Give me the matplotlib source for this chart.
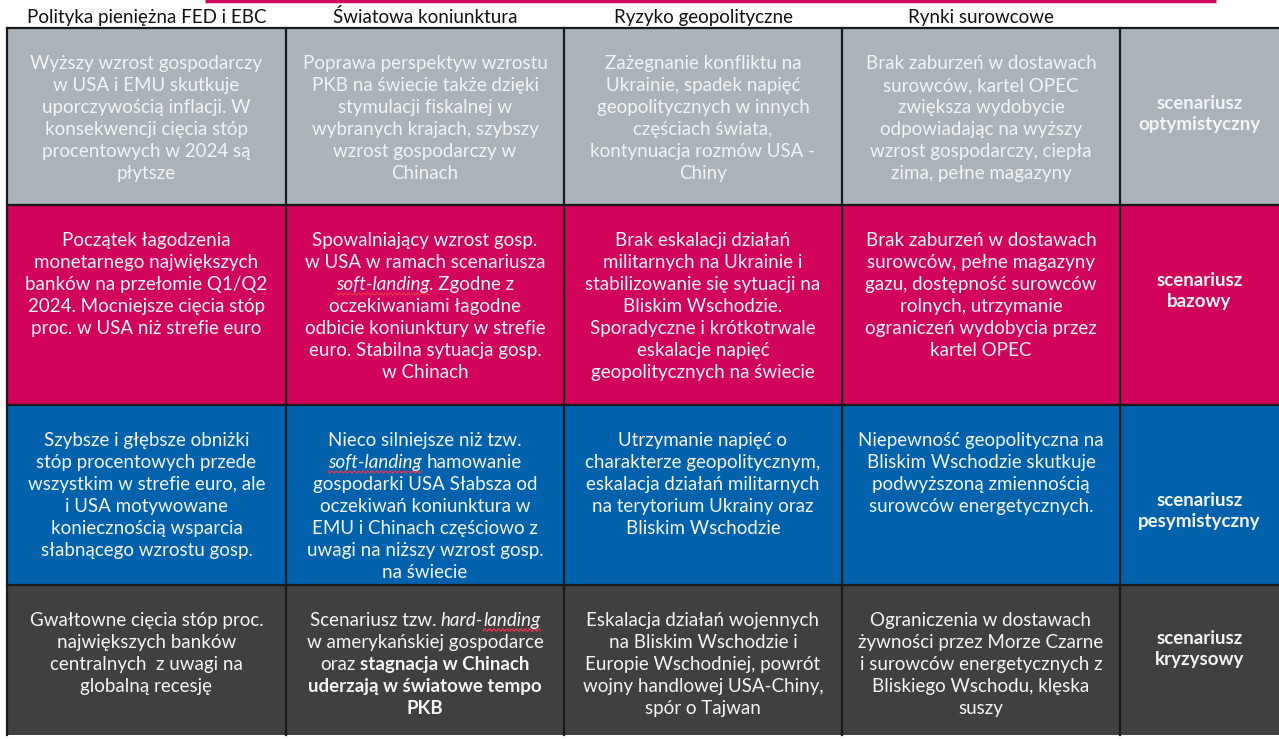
import numpy as np
import matplotlib
matplotlib.use('Agg')
import matplotlib.pyplot as plt
from matplotlib import font_manager

headers = ['Polityka pieniężna FED i EBC', 'Światowa koniunktura',
           'Ryzyko geopolityczne', 'Rynki surowcowe']
scenarios = [['scenariusz', 'optymistyczny'], ['scenariusz', 'bazowy'],
             ['scenariusz', 'pesymistyczny'], ['scenariusz', 'kryzysowy']]
row_colors = ['#A9B3B9', '#D1035A', '#0061AD', '#404040']

# one list of lines per cell; a line is a string or a list of (text, style)
# style: n normal, i italic, b bold, w wavy (spell-check) underline
optimistic = [
    ['Wyższy wzrost gospodarczy', 'w USA i EMU skutkuje', 'uporczywością inflacji. W',
     'konsekwencji cięcia stóp', 'procentowych w 2024 są', 'płytsze'],
    ['Poprawa perspektyw wzrostu', 'PKB na świecie także dzięki', 'stymulacji fiskalnej w',
     'wybranych krajach, szybszy', 'wzrost gospodarczy w', 'Chinach'],
    ['Zażegnanie konfliktu na', 'Ukrainie, spadek napięć', 'geopolitycznych w innych',
     'częściach świata,', 'kontynuacja rozmów USA -', 'Chiny'],
    ['Brak zaburzeń w dostawach', 'surowców, kartel OPEC', 'zwiększa wydobycie',
     'odpowiadając na wyższy', 'wzrost gospodarczy, ciepła', 'zima, pełne magazyny'],
]
base = [
    ['Początek łagodzenia', 'monetarnego największych', 'banków na przełomie Q1/Q2',
     '2024. Mocniejsze cięcia stóp', 'proc. w USA niż strefie euro'],
    ['Spowalniający wzrost gosp.', 'w USA w ramach scenariusza',
     [('soft-landing', 'iw'), ('. Zgodne z', 'n')], 'oczekiwaniami łagodne',
     'odbicie koniunktury w strefie', 'euro. Stabilna sytuacja gosp.', 'w Chinach'],
    ['Brak eskalacji działań', 'militarnych na Ukrainie i', 'stabilizowanie się sytuacji na',
     'Bliskim Wschodzie.', 'Sporadyczne i krótkotrwale', 'eskalacje napięć',
     'geopolitycznych na świecie'],
    ['Brak zaburzeń w dostawach', 'surowców, pełne magazyny', 'gazu, dostępność surowców',
     'rolnych, utrzymanie', 'ograniczeń wydobycia przez', 'kartel OPEC'],
]
pessimistic = [
    ['Szybsze i głębsze obniżki', 'stóp procentowych przede', 'wszystkim w strefie euro, ale',
     'i USA motywowane', 'koniecznością wsparcia', 'słabnącego wzrostu gosp.'],
    ['Nieco silniejsze niż tzw.', [('soft-landing', 'iw'), (' hamowanie', 'n')],
     'gospodarki USA Słabsza od', 'oczekiwań koniunktura w', 'EMU i Chinach częściowo z',
     'uwagi na niższy wzrost gosp.', 'na świecie'],
    ['Utrzymanie napięć o', 'charakterze geopolitycznym,', 'eskalacja działań militarnych',
     'na terytorium Ukrainy oraz', 'Bliskim Wschodzie'],
    ['Niepewność geopolityczna na', 'Bliskim Wschodzie skutkuje', 'podwyższoną zmiennością',
     'surowców energetycznych.'],
]
crisis = [
    ['Gwałtowne cięcia stóp proc.', 'największych banków', 'centralnych  z uwagi na',
     'globalną recesję'],
    [[('Scenariusz tzw. ', 'n'), ('hard-', 'i'), ('landing', 'iw')],
     'w amerykańskiej gospodarce', [('oraz ', 'n'), ('stagnacja w Chinach', 'b')],
     [('uderzają w światowe tempo', 'b')], [('PKB', 'b')]],
    ['Eskalacja działań wojennych', 'na Bliskim Wschodzie i', 'Europie Wschodniej, powrót',
     'wojny handlowej USA-Chiny,', 'spór o Tajwan'],
    ['Ograniczenia w dostawach', 'żywności przez Morze Czarne', 'i surowców energetycznych z',
     'Bliskiego Wschodu, klęska', 'suszy'],
]
cells = [optimistic, base, pessimistic, crisis]

W, H = 1279, 739
col_edges = [7, 286, 564, 842, 1120, 1279]
row_edges = [28, 205, 405, 585, 735]
label_y = [103, 280, 500, 638]
FS = 13.5
LINE = 22

names = {f.name for f in font_manager.fontManager.ttflist}
family = [f for f in ['Lato', 'DejaVu Sans'] if f in names]
plt.rcParams['font.family'] = family

fig = plt.figure(figsize=(W / 100, H / 100), dpi=100)
ax = fig.add_axes([0, 0, 1, 1])
ax.set_xlim(0, W)
ax.set_ylim(H, 0)
ax.axis('off')
r = fig.canvas.get_renderer()


def text_width(t):
    return t.get_window_extent(r).width


def draw_line(xc, yb, segs, color, weight='normal'):
    if isinstance(segs, str):
        segs = [(segs, 'n')]
    probe = ax.text(0, 0, 'x x', fontsize=FS)
    probe2 = ax.text(0, 0, 'xx', fontsize=FS)
    space = text_width(probe) - text_width(probe2)
    probe.remove()
    probe2.remove()
    parts = []
    for s, st in segs:
        body = s.strip()
        lead = len(s) - len(s.lstrip())
        trail = len(s) - len(s.rstrip())
        t = ax.text(0, yb, body, fontsize=FS, color=color, va='baseline', ha='left',
                    fontstyle='italic' if 'i' in st else 'normal',
                    fontweight='bold' if 'b' in st else weight)
        parts.append((t, st, lead, trail, text_width(t)))
    total = sum(w + (lead + trail) * space for _, _, lead, trail, w in parts)
    x = xc - total / 2
    for t, st, lead, trail, w in parts:
        x += lead * space
        t.set_x(x)
        if 'w' in st:
            xs = np.linspace(x, x + w, 60)
            ax.plot(xs, yb + 4 + 1.3 * np.sin(xs * 2 * np.pi / 4.5),
                    color='#E8344E', lw=0.9)
        x += w + trail * space


# pink accent line on top
ax.plot([205, 1216], [1, 1], color='#D1035A', lw=2.5, solid_capstyle='butt')

for j, h in enumerate(headers):
    xc = (col_edges[j] + col_edges[j + 1]) / 2
    draw_line(xc, 23, h, '#111111')

for i, color in enumerate(row_colors):
    y0, y1 = row_edges[i], row_edges[i + 1]
    ax.add_patch(plt.Rectangle((col_edges[0], y0), W - col_edges[0], y1 - y0,
                               facecolor=color, edgecolor='none', zorder=0))
    for j, lines in enumerate(cells[i]):
        xc = (col_edges[j] + col_edges[j + 1]) / 2
        for k, line in enumerate(lines):
            draw_line(xc, y0 + 41 + k * LINE, line, '#F4F4F4')
    xc = (col_edges[4] + col_edges[5]) / 2
    for k, line in enumerate(scenarios[i]):
        draw_line(xc, label_y[i] + 6 + k * 21, line, '#F4F4F4', weight='bold')

# grid lines
for y in row_edges[:-1]:
    ax.plot([col_edges[0], W], [y, y], color='#1A1A1A', lw=1.6)
for x in col_edges[:-1]:
    ax.plot([x, x], [row_edges[0], row_edges[-1]], color='#1A1A1A', lw=1.6)

fig.savefig('out.png', dpi=100)
